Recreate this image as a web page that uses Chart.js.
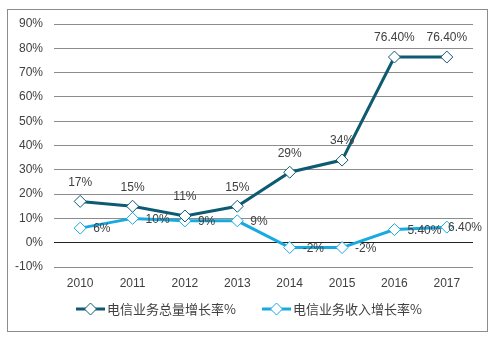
<!DOCTYPE html>
<html>
<head>
<meta charset="utf-8">
<script src="https://cdn.jsdelivr.net/npm/chart.js@4.4.0/dist/chart.umd.min.js"></script>
<style>
  html, body { margin: 0; padding: 0; background: #fff; }
  #wrap { position: relative; width: 495px; height: 340px; }
  #frame { position: absolute; left: 7px; top: 9px; width: 479px; height: 321px; border: 1px solid #8c8c8c; }
  #growthChart { position: absolute; left: 0; top: 0; }
</style>
</head>
<body>
<div id="wrap">
  <div id="frame"></div>
  <canvas id="growthChart" width="495" height="340"></canvas>
</div>
<script>
const years = ["2010", "2011", "2012", "2013", "2014", "2015", "2016", "2017"];
const volumeGrowth = [17, 15, 11, 15, 29, 34, 76.4, 76.4];
const revenueGrowth = [6, 10, 9, 9, -2, -2, 5.4, 6.4];
const volumeLabels = ["17%", "15%", "11%", "15%", "29%", "34%", "76.40%", "76.40%"];
const revenueLabels = ["6%", "10%", "9%", "9%", "-2%", "-2%", "5.40%", "6.40%"];

const darkBlue = "#0e5a73";
const lightBlue = "#17aae0";
const textColor = "#404040";
const latin = "Arial, 'Liberation Sans', sans-serif";

// value labels: volume series above the marker, revenue series to the right
const valueLabels = {
  id: "valueLabels",
  afterDatasetsDraw(chart) {
    const ctx = chart.ctx;
    ctx.save();
    ctx.font = "12px " + latin;
    ctx.fillStyle = textColor;
    ctx.textBaseline = "middle";
    chart.getDatasetMeta(0).data.forEach((pt, i) => {
      ctx.textAlign = "center";
      ctx.fillText(volumeLabels[i], pt.x, pt.y - 19);
    });
    chart.getDatasetMeta(1).data.forEach((pt, i) => {
      ctx.textAlign = "left";
      const w = ctx.measureText(revenueLabels[i]).width;
      // keep labels inside the frame
      const x = Math.min(pt.x + 13, 482 - w);
      ctx.fillText(revenueLabels[i], x, pt.y + 1);
    });
    ctx.restore();
  },
};

// legend drawn as line + diamond, like the series
const lineLegend = {
  id: "lineLegend",
  afterDraw(chart) {
    const ctx = chart.ctx;
    const items = [
      { x: 76, color: darkBlue, text: "电信业务总量增长率%" },
      { x: 262, color: lightBlue, text: "电信业务收入增长率%" },
    ];
    const y = 309;
    ctx.save();
    items.forEach((it) => {
      ctx.strokeStyle = it.color;
      ctx.lineWidth = 3;
      ctx.beginPath();
      ctx.moveTo(it.x, y);
      ctx.lineTo(it.x + 29, y);
      ctx.stroke();
      const cx = it.x + 14.5;
      ctx.beginPath();
      ctx.moveTo(cx - 6, y);
      ctx.lineTo(cx, y - 6);
      ctx.lineTo(cx + 6, y);
      ctx.lineTo(cx, y + 6);
      ctx.closePath();
      ctx.fillStyle = "#fff";
      ctx.fill();
      ctx.lineWidth = 1;
      ctx.stroke();
      ctx.font = "13px 'Noto Sans CJK SC', " + latin;
      ctx.fillStyle = textColor;
      ctx.textAlign = "left";
      ctx.textBaseline = "middle";
      ctx.fillText(it.text, it.x + 31, y);
    });
    ctx.restore();
  },
};

new Chart(document.getElementById("growthChart"), {
  type: "line",
  data: {
    labels: years,
    datasets: [
      {
        label: "电信业务总量增长率%",
        data: volumeGrowth,
        borderColor: darkBlue,
        borderWidth: 3,
        pointStyle: "rectRot",
        pointRadius: 6,
        pointBorderWidth: 1,
        pointBackgroundColor: "#fff",
        pointBorderColor: darkBlue,
        tension: 0,
      },
      {
        label: "电信业务收入增长率%",
        data: revenueGrowth,
        borderColor: lightBlue,
        borderWidth: 3,
        pointStyle: "rectRot",
        pointRadius: 6,
        pointBorderWidth: 1,
        pointBackgroundColor: "#fff",
        pointBorderColor: lightBlue,
        tension: 0,
      },
    ],
  },
  options: {
    responsive: false,
    animation: false,
    layout: { padding: { top: 24, right: 22, left: 0, bottom: 0 } },
    plugins: { legend: { display: false }, tooltip: { enabled: false } },
    scales: {
      x: {
        offset: true,
        grid: { display: false, drawTicks: false },
        border: { display: false },
        ticks: { padding: 9, color: textColor, font: { family: latin, size: 12 } },
        afterFit: (s) => { s.height = 73; },
      },
      y: {
        min: -10,
        max: 90,
        grid: {
          drawTicks: false,
          color: (c) => (c.tick && c.tick.value === 0 ? "#222" : "#8c8c8c"),
        },
        border: { display: false },
        ticks: {
          stepSize: 10,
          padding: 11,
          color: textColor,
          font: { family: latin, size: 12 },
          callback: (v) => v + "%",
        },
        afterFit: (s) => { s.width = 54; },
      },
    },
  },
  plugins: [valueLabels, lineLegend],
});
</script>
</body>
</html>
